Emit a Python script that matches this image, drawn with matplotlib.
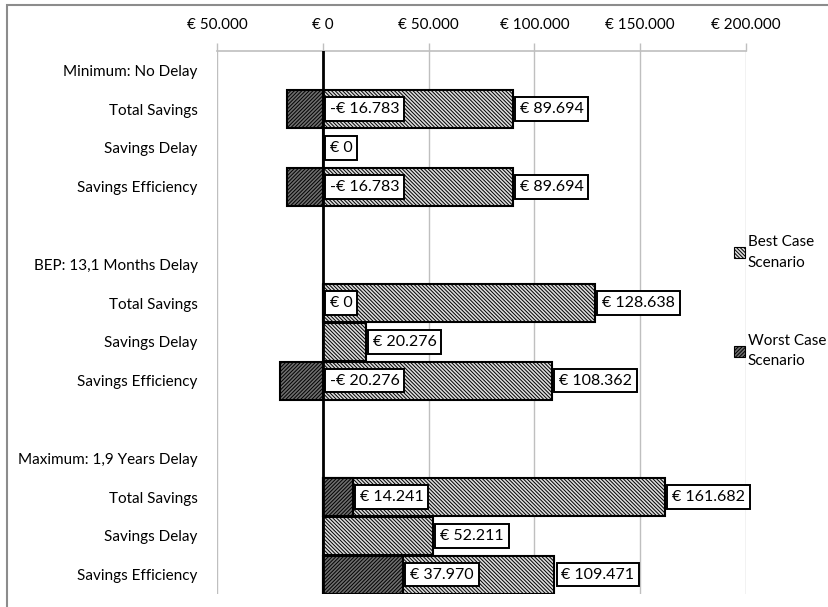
import matplotlib.pyplot as plt
import matplotlib.patches as mpatches
from matplotlib.ticker import FuncFormatter

plt.rcParams['font.family'] = ['Lato', 'DejaVu Sans']
plt.rcParams['hatch.linewidth'] = 0.7

# categories, top to bottom (blank rows separate the three cases)
rows = ["Minimum: No Delay", "Total Savings", "Savings Delay", "Savings Efficiency", "",
        "BEP: 13,1 Months Delay", "Total Savings", "Savings Delay", "Savings Efficiency", "",
        "Maximum: 1,9 Years Delay", "Total Savings", "Savings Delay", "Savings Efficiency"]
best = [None, 89694, 0, 89694, None,
        None, 128638, 20276, 108362, None,
        None, 161682, 52211, 109471]
worst = [None, -16783, None, -16783, None,
         None, 0, None, -20276, None,
         None, 14241, None, 37970]
x_ticks = [-50000, 0, 50000, 100000, 150000, 200000]


def euro(v):
    s = "{:,.0f}".format(abs(v)).replace(",", ".")
    return ("-€ " if v < 0 else "€ ") + s


fig = plt.figure(figsize=(8.29, 6.07), dpi=100)
ax = fig.add_axes([217 / 829, 1 - 594 / 607, (746 - 217) / 829, (594 - 51) / 607])

best_style = dict(facecolor='#dcdcdc', edgecolor='black', hatch='\\' * 9, linewidth=1.5)
worst_style = dict(facecolor='#6e6e6e', edgecolor='black', hatch='/' * 9, linewidth=1.5)

ypos = list(range(len(rows)))
bh = 0.98
for y, b, w in zip(ypos, best, worst):
    if b is not None:
        ax.barh(y, b, height=bh, zorder=2, **best_style)
    if w is not None:
        ax.barh(y, w, height=bh, zorder=3, **worst_style)

box = dict(boxstyle='square,pad=0.3', facecolor='white', edgecolor='black', linewidth=1.4)
for y, b, w in zip(ypos, best, worst):
    if b is not None:
        ax.annotate(euro(b), (b, y), xytext=(7, 0), textcoords='offset pixels',
                    ha='left', va='center', fontsize=11.5, bbox=box, zorder=6)
    if w is not None:
        ax.annotate(euro(w), (max(w, 0), y), xytext=(7, 0), textcoords='offset pixels',
                    ha='left', va='center', fontsize=11.5, bbox=box, zorder=6)

# zero axis on top of the bars
ax.axvline(0, color='black', linewidth=2, zorder=5)

ax.set_xlim(-50000, 200000)
ax.set_ylim(len(rows) - 0.5, -0.5)
ax.set_xticks(x_ticks)
ax.xaxis.set_major_formatter(FuncFormatter(lambda v, p: euro(abs(v))))
ax.xaxis.tick_top()
ax.tick_params(axis='x', length=6, width=1, color='#bfbfbf', pad=8, labelsize=11)
ax.grid(axis='x', color='#bfbfbf', linewidth=1, zorder=0)
ax.set_axisbelow(True)

ax.set_yticks(ypos)
ax.set_yticklabels(rows, fontsize=11)
ax.tick_params(axis='y', length=0, pad=14)

for side in ['left', 'right', 'bottom']:
    ax.spines[side].set_visible(False)
ax.spines['top'].set_color('#bfbfbf')
ax.spines['top'].set_linewidth(1.2)

# legend on the right
handles = [mpatches.Patch(**best_style), mpatches.Patch(**worst_style)]
for h in handles:
    h.set_linewidth(0.8)
leg = fig.legend(handles, ["Best Case\nScenario", "Worst Case\nScenario"],
                 loc='upper left', bbox_to_anchor=(728 / 829, 1 - 229 / 607),
                 frameon=False, fontsize=11, handlelength=0.7, handleheight=0.7,
                 handletextpad=0.2, labelspacing=4.2, borderaxespad=0)
for t in leg.get_texts():
    t.set_linespacing(1.6)

# chart border
fig.patches.append(mpatches.Rectangle((7 / 829, -0.1), 1.2, 1.1 - 5 / 607,
                                      transform=fig.transFigure, fill=False,
                                      edgecolor='#8c8c8c', linewidth=1.5))

fig.savefig('out.png', dpi=100)
